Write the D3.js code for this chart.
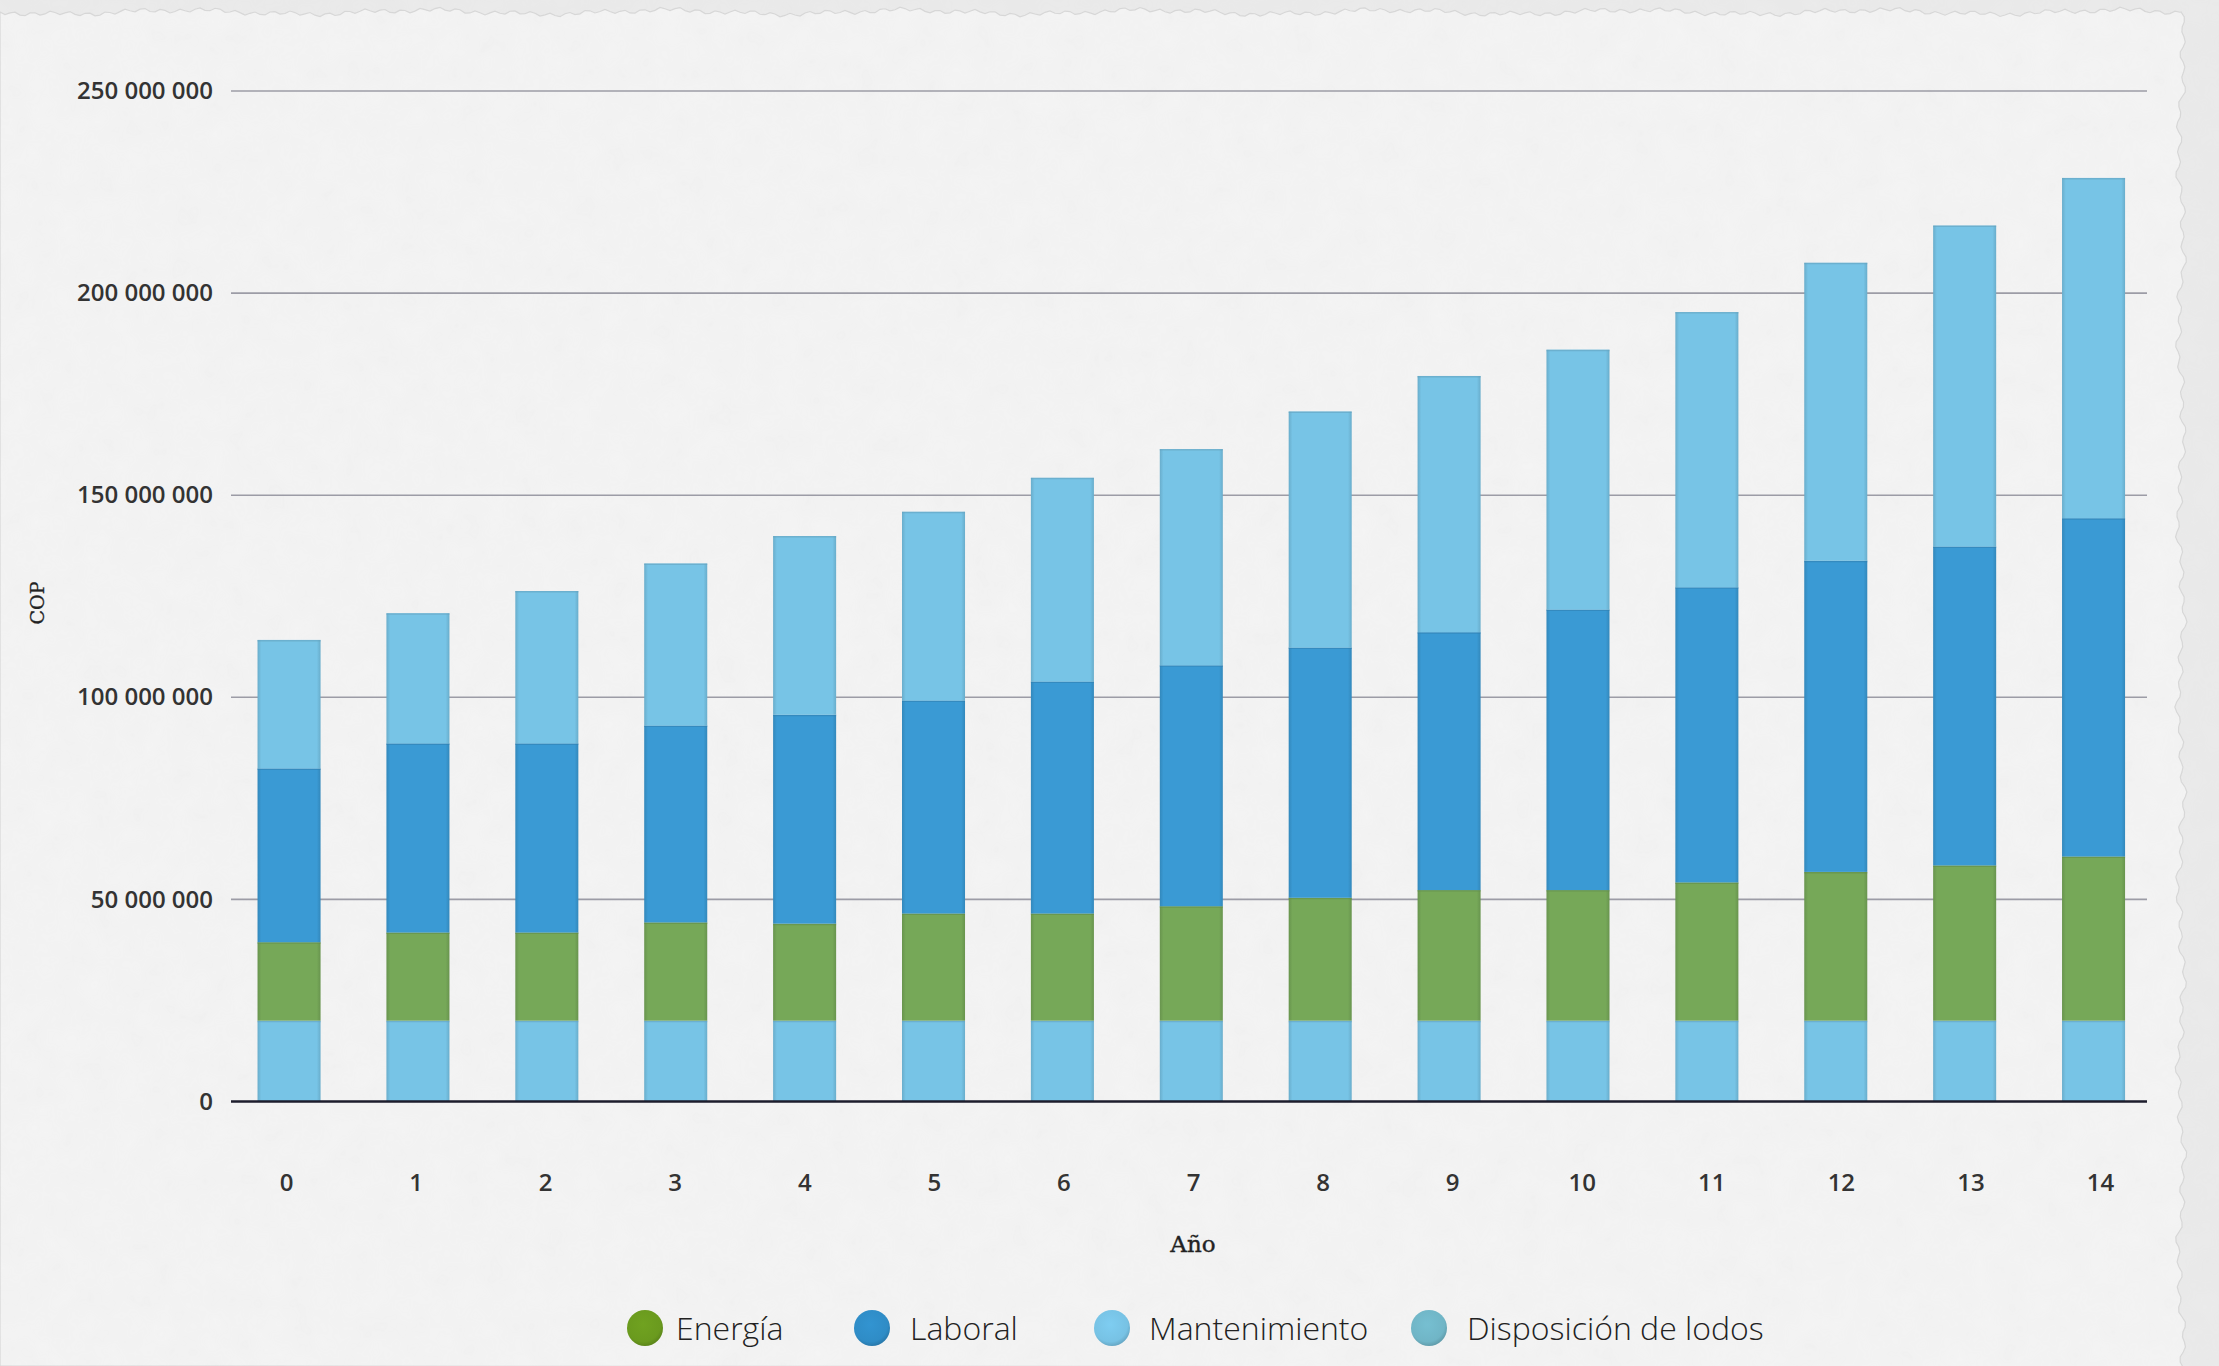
<!DOCTYPE html>
<html lang="es">
<head>
<meta charset="utf-8">
<title>Costos de operación por año</title>
<script src="https://cdn.jsdelivr.net/npm/d3@7"></script>
<style>
  html, body { margin: 0; padding: 0; background: #ececec; }
  svg { display: block; }
</style>
</head>
<body>
<svg id="chart" width="2219" height="1366"></svg>
<script>
// ---- data (COP) ----
const years = ["0","1","2","3","4","5","6","7","8","9","10","11","12","13","14"];
const disposicion = [20000000,20000000,20000000,20000000,20000000,20000000,20000000,20000000,20000000,20000000,20000000,20000000,20000000,20000000,20000000];
const energia = [19400000,21800000,21800000,24300000,24000000,26500000,26500000,28300000,30400000,32300000,32300000,34200000,36800000,38400000,40600000];
const laboral = [43000000,46800000,46800000,48700000,51700000,52700000,57400000,59600000,61900000,63800000,69400000,73000000,77000000,78900000,83700000];
const mantenimiento = [31800000,32200000,37700000,40100000,44200000,46700000,50400000,53500000,58400000,63400000,64300000,68100000,73700000,79400000,84200000];
const yTicks = [0, 50000000, 100000000, 150000000, 200000000, 250000000];
const legendNames = ["Energía", "Laboral", "Mantenimiento", "Disposición de lodos"];

// stacking order, bottom to top
const stackKeys = ["Disposición de lodos", "Energía", "Laboral", "Mantenimiento"];
const seriesValues = {
  "Disposición de lodos": disposicion,
  "Energía": energia,
  "Laboral": laboral,
  "Mantenimiento": mantenimiento
};
const rows = years.map((y, i) => {
  const r = { year: y };
  stackKeys.forEach(k => { r[k] = seriesValues[k][i]; });
  return r;
});

// ---- styles ----
const barColor = {
  "Disposición de lodos": "#77c4e6",
  "Energía": "#76a858",
  "Laboral": "#3a9ad4",
  "Mantenimiento": "#77c4e6"
};
const legendColor = {
  "Energía": "#6a9a1e",
  "Laboral": "#2f8cc6",
  "Mantenimiento": "#77c2e4",
  "Disposición de lodos": "#70b5c6"
};

const svg = d3.select("#chart");
const W = 2219, H = 1366;
const plot = { left: 231, right: 2147, top: 91, bottom: 1101.5 };

// ---- paper background ----
const defs = svg.append("defs");
const noise = defs.append("filter").attr("id", "paper").attr("x", 0).attr("y", 0).attr("width", 1).attr("height", 1);
noise.append("feTurbulence").attr("type", "fractalNoise").attr("baseFrequency", 0.035).attr("numOctaves", 3).attr("seed", 7).attr("result", "n");
noise.append("feColorMatrix").attr("type", "matrix")
  .attr("values", "0 0 0 0 0.5  0 0 0 0 0.5  0 0 0 0 0.5  0 0 0 0.10 0");

svg.append("rect").attr("width", W).attr("height", H).attr("fill", "#ebebeb");
// torn paper sheet edges
const edgeTop = d3.range(0, 2185, 5).map((x, i) => [x, 12 + 1.8 * Math.sin(i * 1.7) + 2 * Math.sin(i * 0.13) + 1.2 * Math.sin(i * 0.41)]);
const edgeRight = d3.range(12, H + 5, 5).map((y, i) => [2181 + 2.2 * Math.sin(i * 1.3) + 2.5 * Math.sin(i * 0.17) + 1.5 * Math.sin(i * 0.53), y]);
const sheet = [[0, H], [0, edgeTop[0][1]], ...edgeTop, ...edgeRight, [0, H]];
svg.append("path").attr("d", d3.line()(sheet) + "Z").attr("fill", "#f4f4f4")
  .attr("stroke", "#d8d8d8").attr("stroke-width", 1.2);
svg.append("rect").attr("width", W).attr("height", H).attr("filter", "url(#paper)").attr("opacity", 0.6);

// ---- scales ----
const x = d3.scaleBand().domain(years).range([224.6, 2158]).paddingInner(0.511).paddingOuter(0.2555);
const y = d3.scaleLinear().domain([0, 250000000]).range([plot.bottom, plot.top]);

// gridlines
svg.append("g").selectAll("line").data(yTicks.filter(t => t > 0)).join("line")
  .attr("x1", plot.left).attr("x2", plot.right)
  .attr("y1", d => y(d)).attr("y2", d => y(d))
  .attr("stroke", "#9c9ca6").attr("stroke-width", 1.6);

// y axis labels
const fmt = v => d3.format(",")(v).replace(/,/g, " ");
const yAxis = d3.axisLeft(y).tickValues(yTicks).tickFormat(fmt).tickSize(0).tickPadding(18);
const gy = svg.append("g").attr("transform", `translate(${plot.left},0)`).call(yAxis);
gy.select(".domain").remove();
gy.selectAll("text").attr("font-family", "'Open Sans', sans-serif").attr("font-size", 24)
  .attr("font-weight", 600).attr("fill", "#333");

// bar gradients (soft darker edges)
stackKeys.forEach((k, i) => {
  const g = defs.append("linearGradient").attr("id", "grad" + i).attr("x1", 0).attr("x2", 1).attr("y1", 0).attr("y2", 0);
  const base = d3.color(barColor[k]);
  const dark = base.darker(0.35);
  [[0, dark], [0.06, base], [0.94, base], [1, dark]].forEach(([o, c]) =>
    g.append("stop").attr("offset", o).attr("stop-color", c.formatHex()));
});

// stacked bars
const stacked = d3.stack().keys(stackKeys)(rows);
const layers = svg.append("g").selectAll("g").data(stacked).join("g")
  .attr("fill", (d, i) => `url(#grad${i})`);
layers.selectAll("rect").data(d => d).join("rect")
  .attr("x", d => x(d.data.year))
  .attr("width", x.bandwidth())
  .attr("y", d => y(d[1]))
  .attr("height", d => y(d[0]) - y(d[1]));
// thin top edge on each segment
layers.each(function (layer, i) {
  const edge = d3.color(barColor[layer.key]).darker(0.5).formatHex();
  d3.select(this).selectAll("line").data(layer).join("line")
    .attr("x1", d => x(d.data.year)).attr("x2", d => x(d.data.year) + x.bandwidth())
    .attr("y1", d => y(d[1]) + 0.75).attr("y2", d => y(d[1]) + 0.75)
    .attr("stroke", edge).attr("stroke-width", 1.5).attr("opacity", 0.6);
});

// baseline
svg.append("line").attr("x1", plot.left).attr("x2", plot.right)
  .attr("y1", y(0)).attr("y2", y(0)).attr("stroke", "#1d1d2c").attr("stroke-width", 2.5);

// x axis labels (category labels sit on a slightly wider spread than the bars)
const xLabel = d3.scalePoint().domain(years).range([286, 2100]);
const xAxis = d3.axisBottom(xLabel).tickSize(0).tickPadding(0);
const gx = svg.append("g").attr("transform", `translate(0,${y(0)})`).call(xAxis);
gx.select(".domain").remove();
gx.selectAll("text").attr("dy", null).attr("y", 89)
  .attr("font-family", "'Open Sans', sans-serif").attr("font-size", 24)
  .attr("font-weight", 600).attr("fill", "#333");

// axis titles
svg.append("text").attr("x", (plot.left + plot.right) / 2 + 4).attr("y", 1252)
  .attr("text-anchor", "middle").attr("font-family", "'DejaVu Serif', serif")
  .attr("font-size", 23).attr("fill", "#222").attr("stroke", "#222").attr("stroke-width", 0.4)
  .text("Año");
svg.append("text").attr("transform", "translate(44,603) rotate(-90)")
  .attr("text-anchor", "middle").attr("font-family", "'DejaVu Serif', serif")
  .attr("font-size", 19).attr("fill", "#222").attr("stroke", "#222").attr("stroke-width", 0.3)
  .text("COP");

// legend
const legendX = [645, 872, 1112, 1429];
const legendTextX = [676, 910, 1149, 1467];
const legend = svg.append("g").selectAll("g").data(legendNames).join("g");
legendNames.forEach((n, i) => {
  const g = defs.append("radialGradient").attr("id", "lg" + i).attr("cx", "45%").attr("cy", "40%").attr("r", "60%");
  const c = d3.color(legendColor[n]);
  g.append("stop").attr("offset", 0).attr("stop-color", c.brighter(0.15).formatHex());
  g.append("stop").attr("offset", 0.8).attr("stop-color", c.formatHex());
  g.append("stop").attr("offset", 1).attr("stop-color", c.darker(0.4).formatHex());
});
legend.append("circle").attr("cx", (d, i) => legendX[i]).attr("cy", 1328)
  .attr("r", 18).attr("fill", (d, i) => `url(#lg${i})`);
legend.append("text").attr("x", (d, i) => legendTextX[i]).attr("y", 1340)
  .attr("font-family", "'Open Sans', sans-serif").attr("font-weight", 300)
  .attr("font-size", 32)
  .attr("fill", "#222").text(d => d);
</script>
</body>
</html>
